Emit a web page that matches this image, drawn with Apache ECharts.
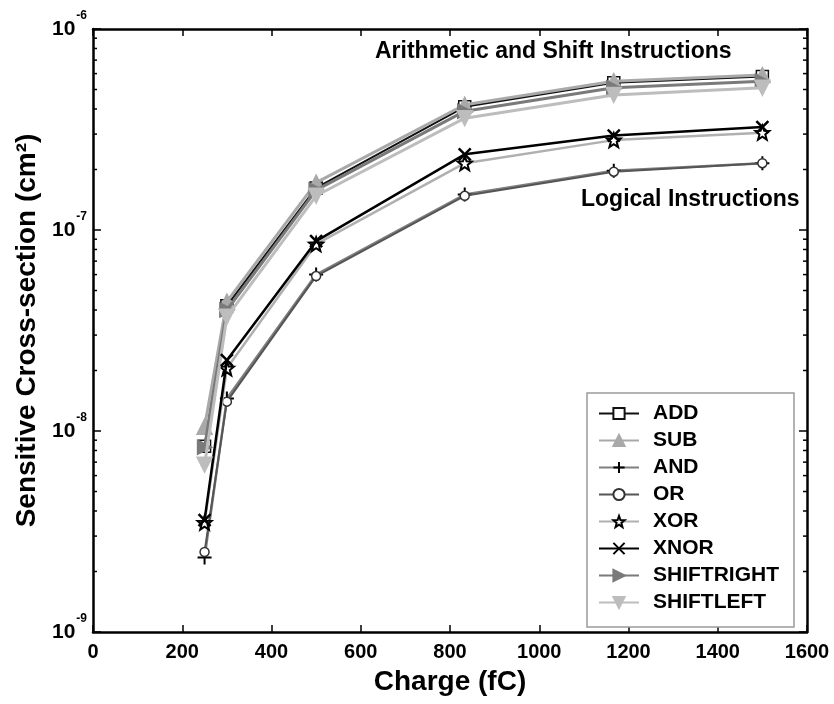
<!DOCTYPE html>
<html>
<head>
<meta charset="utf-8">
<script src="https://cdn.jsdelivr.net/npm/echarts@6/dist/echarts.min.js"></script>
<style>
  html, body { margin: 0; padding: 0; background: #fff; }
  #chart { width: 834px; height: 704px; }
</style>
</head>
<body>
<div id="chart"></div>
<script>
// Collected charge (fC) for each measurement
const charge = [250, 300, 500, 833, 1167, 1500];

// Sensitive cross-section (cm^2) per instruction
const addValues        = [8.4e-9, 4.2e-8, 1.62e-7, 4.1e-7, 5.4e-7, 5.8e-7];
const subValues        = [1.05e-8, 4.4e-8, 1.72e-7, 4.2e-7, 5.5e-7, 5.9e-7];
const andValues        = [2.35e-9, 1.45e-8, 6.0e-8, 1.5e-7, 1.97e-7, 2.15e-7];
const orValues         = [2.5e-9, 1.4e-8, 5.9e-8, 1.48e-7, 1.95e-7, 2.15e-7];
const xorValues        = [3.5e-9, 2.05e-8, 8.5e-8, 2.15e-7, 2.8e-7, 3.05e-7];
const xnorValues       = [3.6e-9, 2.25e-8, 8.8e-8, 2.38e-7, 2.95e-7, 3.25e-7];
const shiftRightValues = [8.3e-9, 4.0e-8, 1.58e-7, 3.9e-7, 5.1e-7, 5.5e-7];
const shiftLeftValues  = [6.8e-9, 3.7e-8, 1.48e-7, 3.6e-7, 4.7e-7, 5.1e-7];

// Axis ticks
const xTicks = [0, 200, 400, 600, 800, 1000, 1200, 1400, 1600];
const yDecades = [1e-9, 1e-8, 1e-7, 1e-6];
const yMinorTicks = [];
[1e-9, 1e-8, 1e-7].forEach(function (d) {
  for (let m = 2; m <= 9; m++) yMinorTicks.push(m * d);
});

const FONT = 'Liberation Sans, Arial, sans-serif';

const STAR = 'path://M0,-1L0.247,-0.34L0.951,-0.309L0.399,0.13L0.588,0.809L0,0.42L-0.588,0.809L-0.399,0.13L-0.951,-0.309L-0.247,-0.34Z';
const PLUS = 'path://M0,-1L0,1M-1,0L1,0';
const CROSS = 'path://M-1,-1L1,1M-1,1L1,-1';

function pairs(vals) {
  return charge.map(function (c, i) { return [c, vals[i]]; });
}

function lineSeries(name, vals, opts) {
  return {
    name: name,
    type: 'line',
    data: pairs(vals),
    z: opts.z || 2,
    symbol: opts.symbol,
    symbolSize: opts.size,
    symbolRotate: opts.rotate || 0,
    showAllSymbol: true,
    lineStyle: { color: opts.line, width: opts.width },
    itemStyle: {
      color: opts.fill,
      borderColor: opts.border,
      borderWidth: opts.borderWidth == null ? 1.5 : opts.borderWidth
    },
    emphasis: { disabled: true },
    animation: false
  };
}

// Plot order: later instructions are drawn over earlier ones
const series = [
  lineSeries('ADD', addValues, { symbol: 'rect', size: 12, line: '#111', width: 2, fill: '#fff', border: '#111', z: 2 }),
  lineSeries('SUB', subValues, { symbol: 'triangle', size: 15, line: '#a9a9a9', width: 3, fill: '#a9a9a9', border: '#a9a9a9', z: 3 }),
  lineSeries('AND', andValues, { symbol: PLUS, size: 14, line: '#808080', width: 2.5, fill: '#000', border: '#000', borderWidth: 2, z: 2 }),
  lineSeries('OR', orValues, { symbol: 'circle', size: 9, line: '#555', width: 2, fill: '#fff', border: '#333', z: 3 }),
  lineSeries('XOR', xorValues, { symbol: STAR, size: 14, line: '#b0b0b0', width: 2.5, fill: '#fff', border: '#000', borderWidth: 2, z: 4 }),
  lineSeries('XNOR', xnorValues, { symbol: CROSS, size: 12, line: '#000', width: 2.5, fill: '#000', border: '#000', borderWidth: 2.5, z: 5 }),
  lineSeries('SHIFTRIGHT', shiftRightValues, { symbol: 'triangle', rotate: -90, size: 14, line: '#7a7a7a', width: 3, fill: '#7a7a7a', border: '#7a7a7a', z: 4 }),
  lineSeries('SHIFTLEFT', shiftLeftValues, { symbol: 'triangle', rotate: 180, size: 15, line: '#bdbdbd', width: 3, fill: '#bdbdbd', border: '#bdbdbd', z: 5 })
];

// Minor ticks on the left and right frame edges of the log axis
series.push({
  type: 'custom',
  coordinateSystem: 'cartesian2d',
  data: yMinorTicks.map(function (v) { return [0, v]; }),
  clip: false,
  silent: true,
  z: 10,
  animation: false,
  renderItem: function (params, api) {
    const left = api.coord([xTicks[0], api.value(1)]);
    const right = api.coord([xTicks[xTicks.length - 1], api.value(1)]);
    const style = { stroke: '#000', lineWidth: 1.5 };
    return {
      type: 'group',
      children: [
        { type: 'line', shape: { x1: left[0], y1: left[1], x2: left[0] + 4, y2: left[1] }, style: style },
        { type: 'line', shape: { x1: right[0], y1: right[1], x2: right[0] - 4, y2: right[1] }, style: style }
      ]
    };
  }
});

const chart = echarts.init(document.getElementById('chart'), null, { renderer: 'canvas' });

chart.setOption({
  backgroundColor: '#fff',
  animation: false,
  grid: { left: 93, right: 27, top: 29, bottom: 72, containLabel: false },
  legend: {
    data: ['ADD', 'SUB', 'AND', 'OR', 'XOR', 'XNOR', 'SHIFTRIGHT', 'SHIFTLEFT'],
    orient: 'vertical',
    left: 587,
    top: 393,
    itemWidth: 40,
    itemHeight: 14,
    itemGap: 6,
    padding: [10, 15, 14, 11],
    backgroundColor: '#fff',
    borderColor: '#9a9a9a',
    borderWidth: 1.5,
    selectedMode: false,
    textStyle: { fontFamily: FONT, fontSize: 21, fontWeight: 'bold', color: '#000', lineHeight: 21, padding: [0, 0, 0, 9] }
  },
  xAxis: [{
    type: 'value',
    min: 0,
    max: 1600,
    interval: 200,
    name: 'Charge (fC)',
    nameLocation: 'middle',
    nameGap: 36,
    nameTextStyle: { fontFamily: FONT, fontSize: 28, fontWeight: 'bold', color: '#000' },
    axisLine: { show: true, onZero: false, lineStyle: { color: '#000', width: 2.5 } },
    axisTick: { show: true, inside: true, length: 7, lineStyle: { color: '#000', width: 1.5 } },
    axisLabel: {
      margin: 10, fontFamily: FONT, fontSize: 20, fontWeight: 'bold', color: '#000',
      formatter: function (v) { return String(v); }
    },
    splitLine: { show: false }
  }, {
    type: 'value',
    position: 'top',
    min: 0,
    max: 1600,
    interval: 200,
    axisLine: { show: true, onZero: false, lineStyle: { color: '#000', width: 2.5 } },
    axisTick: { show: true, inside: true, length: 7, lineStyle: { color: '#000', width: 1.5 } },
    axisLabel: { show: false },
    splitLine: { show: false }
  }],
  yAxis: [{
    type: 'log',
    logBase: 10,
    min: yDecades[0],
    max: yDecades[yDecades.length - 1],
    name: 'Sensitive Cross-section (cm²)',
    nameLocation: 'middle',
    nameGap: 47,
    nameTextStyle: { fontFamily: FONT, fontSize: 28, fontWeight: 'bold', color: '#000' },
    axisLine: { show: true, onZero: false, lineStyle: { color: '#000', width: 2.5 } },
    axisTick: { show: true, inside: true, length: 8, lineStyle: { color: '#000', width: 1.5 } },
    axisLabel: {
      margin: 6,
      showMinLabel: true,
      showMaxLabel: true,
      formatter: function (v) {
        const e = Math.round(Math.log10(v));
        return '{b|10}{s|' + e + '}';
      },
      rich: {
        b: { fontFamily: FONT, fontSize: 21, fontWeight: 'bold', color: '#000', lineHeight: 21, verticalAlign: 'middle' },
        s: { fontFamily: FONT, fontSize: 12, fontWeight: 'bold', color: '#000', lineHeight: 12, padding: [0, 0, 26, 1], verticalAlign: 'middle' }
      }
    },
    splitLine: { show: false }
  }, {
    type: 'log',
    logBase: 10,
    position: 'right',
    min: yDecades[0],
    max: yDecades[yDecades.length - 1],
    axisLine: { show: true, onZero: false, lineStyle: { color: '#000', width: 2.5 } },
    axisTick: { show: true, inside: true, length: 8, lineStyle: { color: '#000', width: 1.5 } },
    axisLabel: { show: false },
    splitLine: { show: false }
  }],
  graphic: [
    {
      type: 'text', left: 375, top: 40, z: 20,
      style: { text: 'Arithmetic and Shift Instructions', font: 'bold 23px ' + FONT, fill: '#000' }
    },
    {
      type: 'text', left: 581, top: 188, z: 20,
      style: { text: 'Logical Instructions', font: 'bold 23px ' + FONT, fill: '#000' }
    }
  ],
  series: series
});
</script>
</body>
</html>
